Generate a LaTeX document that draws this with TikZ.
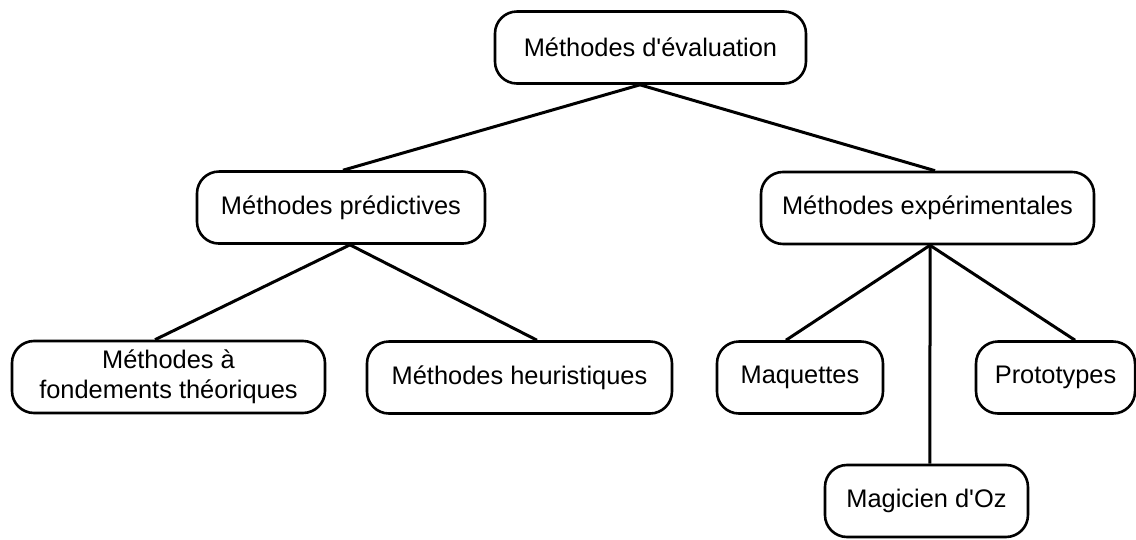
\documentclass[tikz,border=0pt]{standalone}
\usepackage{fontspec}
\setmainfont{Liberation Sans}
\usepackage{tikz}
\usetikzlibrary{calc}

\begin{document}
\begin{tikzpicture}[line width=1.5pt, font=\fontsize{12.7}{15}\selectfont]
			\useasboundingbox (0,0) rectangle (19.963,9.472);
			\tikzset{boite/.style={draw, line width=1.3pt, rounded corners=11pt, minimum height=36pt, align=center, inner sep=2pt}}
			% % % % % % % % % % % % % % %
			%根节点
			\node[boite, minimum width=155.5pt] (eval) at (11.431,8.637) {Méthodes d\textquotesingle évaluation};
			%第二层
			\node[boite, minimum width=144pt] (pred) at (5.992,5.825) {Méthodes prédictives};
			\node[boite, minimum width=166.5pt] (exp) at (16.299,5.817) {Méthodes expérimentales};
			%第三层
			\node[boite, minimum width=156.5pt] (fond) at (2.961,2.847) {Méthodes à\\fondements théoriques};
			\node[boite, minimum width=152.5pt] (heur) at (9.129,2.838) {Méthodes heuristiques};
			\node[boite, minimum width=83pt] (maq) at (14.058,2.838) {Maquettes};
			\node[boite, minimum width=79.5pt] (proto) at (18.549,2.838) {Prototypes};
			\node[boite, minimum width=101.5pt] (mag) at (16.281,0.668) {Magicien d\textquotesingle Oz};
			%连线
			\draw ([xshift=-5.25pt]eval.south) -- ([xshift=1pt]pred.north);
			\draw ([xshift=-5.25pt]eval.south) -- ([xshift=3.75pt]exp.north);
			\draw ([xshift=4.5pt]pred.south) -- ([xshift=-6.75pt]fond.north);
			\draw ([xshift=4.5pt]pred.south) -- ([xshift=8.75pt]heur.north);
			%\foreach 画实验方法的三条线
			\foreach \fils/\dx in {maq/-7pt, mag/1.75pt, proto/9.75pt} {
				\draw ([xshift=1.25pt]exp.south) -- ([xshift=\dx]\fils.north);
			}
		\end{tikzpicture}
\end{document}
